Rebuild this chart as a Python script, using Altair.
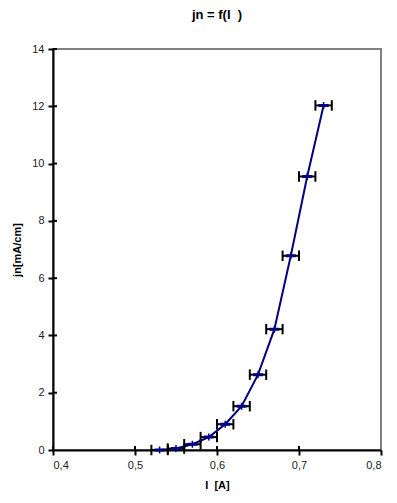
import altair as alt
import pandas as pd

current = [0.53, 0.55, 0.57, 0.59, 0.61, 0.63, 0.65, 0.67, 0.69, 0.71, 0.73]
jn = [0.0, 0.05, 0.2, 0.45, 0.9, 1.53, 2.63, 4.22, 6.78, 9.55, 12.03]
current_err = [0.01, 0.01, 0.01, 0.01, 0.01, 0.01, 0.01, 0.01, 0.01, 0.01, 0.01]
x_ticks = [0.4, 0.5, 0.6, 0.7, 0.8]
y_ticks = [0, 2, 4, 6, 8, 10, 12, 14]

df = pd.DataFrame({"I": current, "jn": jn, "err": current_err})
df["lo"] = df["I"] - df["err"]
df["hi"] = df["I"] + df["err"]

FONT = "Liberation Sans"
W, H = 328, 401

xs = alt.Scale(domain=[0.4, 0.8], nice=False)
ys = alt.Scale(domain=[0, 14], nice=False)

base = alt.Chart(df)

line = base.mark_line(color="#000080", strokeWidth=2).encode(
    x=alt.X("I:Q", scale=xs, title="I\u00a0\u00a0[A]",
            axis=alt.Axis(values=x_ticks,
                          labelExpr="replace(format(datum.value, '.1f'), '.', ',')")),
    y=alt.Y("jn:Q", scale=ys, title="jn[mA/cm]", axis=alt.Axis(values=y_ticks)),
)

bars = base.mark_rule(color="black", strokeWidth=2).encode(
    x=alt.X("lo:Q", scale=xs), x2="hi:Q", y=alt.Y("jn:Q", scale=ys)
)

cap_shape = "M0,-1L0,1"
cap_lo = base.mark_point(shape=cap_shape, filled=False, color="black",
                         strokeWidth=2, size=110, opacity=1).encode(
    x=alt.X("lo:Q", scale=xs), y=alt.Y("jn:Q", scale=ys))
cap_hi = base.mark_point(shape=cap_shape, filled=False, color="black",
                         strokeWidth=2, size=110, opacity=1).encode(
    x=alt.X("hi:Q", scale=xs), y=alt.Y("jn:Q", scale=ys))

marker = base.mark_point(
    shape="M-1,-0.3H1V0.3H-1Z M-0.15,-0.7H0.15V0.7H-0.15Z",
    filled=True, color="#000080", size=100, opacity=1,
).encode(x=alt.X("I:Q", scale=xs), y=alt.Y("jn:Q", scale=ys))

# inner half of the crossing ticks
xt = pd.DataFrame({"v": x_ticks[:-1]})
yt = pd.DataFrame({"v": y_ticks[1:]})
xin = alt.Chart(xt).mark_rule(color="black", strokeWidth=2).encode(
    x=alt.X("v:Q", scale=xs), y=alt.value(H - 4), y2=alt.value(H))
yin = alt.Chart(yt).mark_rule(color="black", strokeWidth=2).encode(
    y=alt.Y("v:Q", scale=ys), x=alt.value(0), x2=alt.value(4))

chart = alt.layer(line, bars, cap_lo, cap_hi, marker, xin, yin).properties(
    width=W, height=H,
    title=alt.Title("jn = f(I\u00a0\u00a0)", font=FONT, fontSize=13, fontWeight="bold",
                    color="black", anchor="middle", offset=21),
    autosize=alt.AutoSizeParams(type="none"),
    padding={"left": 45, "top": 41, "right": 8, "bottom": 42},
).configure_view(
    stroke="#808080", strokeWidth=2
).configure_axis(
    grid=False, domainColor="black", domainWidth=2, tickColor="black",
    tickWidth=2, tickSize=5, labelFont=FONT, labelFontSize=11,
    labelColor="#222222", titleFont=FONT, titleFontSize=11,
    titleFontWeight="bold", titleColor="black",
).configure_axisX(
    labelPadding=4, titlePadding=9
).configure_axisY(
    labelPadding=4, titlePadding=9
)

chart.save("out.html", embed_options={"renderer": "svg", "actions": False})
